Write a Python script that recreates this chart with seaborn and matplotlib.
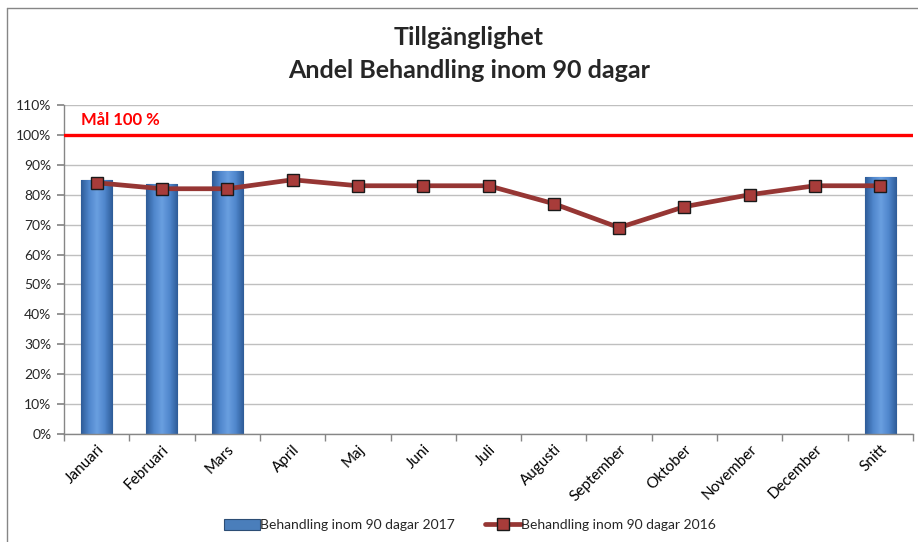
import numpy as np
import pandas as pd
import seaborn as sns
import matplotlib.pyplot as plt
from matplotlib.colors import LinearSegmentedColormap
from matplotlib.lines import Line2D
from matplotlib.patches import Patch

months = ["Januari", "Februari", "Mars", "April", "Maj", "Juni", "Juli",
          "Augusti", "September", "Oktober", "November", "December", "Snitt"]

# 2017 only has values for the first quarter plus the average
bar_months = ["Januari", "Februari", "Mars", "Snitt"]
values_2017 = [85, 83.5, 88, 86]

values_2016 = [84, 82, 82, 85, 83, 83, 83, 77, 69, 76, 80, 83, 83]

goal = 100
label_2017 = "Behandling inom 90 dagar 2017"
label_2016 = "Behandling inom 90 dagar 2016"

sns.set_theme(style="white")
plt.rcParams["font.family"] = ["Lato", "DejaVu Sans"]

df17 = pd.DataFrame({"month": bar_months, "value": values_2017})
df16 = pd.DataFrame({"month": months, "value": values_2016})

fig = plt.figure(figsize=(9.18, 5.42), dpi=100)
ax = fig.add_axes([64 / 918, 1 - 434 / 542, (913 - 64) / 918, (434 - 105) / 542])

sns.barplot(data=df17, x="month", y="value", order=months, width=0.475,
            color="#4A7EBB", edgecolor="#2C4D75", linewidth=0.8, ax=ax,
            zorder=2)

# fake the Excel gradient fill on the bars
grad = LinearSegmentedColormap.from_list(
    "bar", ["#2E5C98", "#4F86CC", "#6A9FE0", "#4F86CC", "#2E5C98"])
for patch in ax.patches:
    x0, y0 = patch.get_x(), patch.get_y()
    w, h = patch.get_width(), patch.get_height()
    if np.isnan(h) or h == 0:
        continue
    im = ax.imshow(np.linspace(0, 1, 64).reshape(1, -1), cmap=grad,
                   extent=[x0, x0 + w, y0, y0 + h], aspect="auto", zorder=2.1)
    im.set_clip_path(patch)

ax.axhline(goal, color="#FF0000", linewidth=2.4, zorder=3)
ax.text(0.02, 0.955, "Mål 100 %", transform=ax.transAxes, color="#FF0000",
        fontsize=12, fontweight="bold", va="center", ha="left")

sns.pointplot(data=df16, x="month", y="value", order=months, errorbar=None,
              color="#963634", markers="s", linestyles="-", ax=ax,
              linewidth=3.4, markersize=8, markerfacecolor="#A83C3A",
              markeredgecolor="#1A1A1A", markeredgewidth=1.0, zorder=4)

ax.set_xlim(-0.5, len(months) - 0.5)
ax.set_ylim(0, 110)
ax.set_yticks(range(0, 111, 10))
ax.set_yticklabels([f"{t}%" for t in range(0, 111, 10)])
ax.set_xticks(range(len(months)))
ax.set_xticklabels(months, rotation=45, ha="right", rotation_mode="anchor")
ax.set_xlabel("")
ax.set_ylabel("")
ax.yaxis.grid(True, color="#BFBFBF", linewidth=1.0, zorder=0)
ax.set_axisbelow(True)

# tick marks between categories like Excel
ax.set_xticks(np.arange(-0.5, len(months), 1), minor=True)
ax.tick_params(axis="x", which="major", length=0, labelsize=11, pad=6,
               colors="#000000")
ax.tick_params(axis="x", which="minor", length=5, color="#868686", bottom=True)
ax.tick_params(axis="y", length=5, color="#868686", left=True, labelsize=10,
               pad=4)

sns.despine(ax=ax, top=True, right=True)
for side in ["left", "bottom"]:
    ax.spines[side].set_color("#868686")
    ax.spines[side].set_linewidth(1.0)

fig.text(0.511, 1 - 38 / 542, "Tillgänglighet", ha="center", va="center",
         fontsize=18, fontweight="bold")
fig.text(0.511, 1 - 70 / 542, "Andel Behandling inom 90 dagar", ha="center",
         va="center", fontsize=18, fontweight="bold")

handles = [
    Patch(facecolor="#4A7EBB", edgecolor="#2C4D75", linewidth=0.8),
    Line2D([0], [0], color="#963634", linewidth=3.4, marker="s",
           markersize=8, markerfacecolor="#A83C3A", markeredgecolor="#1A1A1A"),
]
fig.legend(handles, [label_2017, label_2016], loc="center",
           bbox_to_anchor=(0.512, 1 - 525 / 542), ncol=2, frameon=False,
           fontsize=10, handlelength=2.6, handleheight=0.8, handletextpad=0.0,
           columnspacing=2.2)

# chart frame, cut off on the right and bottom
fig.add_artist(Line2D([7 / 918, 1.0], [1 - 8 / 542, 1 - 8 / 542],
                      color="#868686", linewidth=1.0))
fig.add_artist(Line2D([7 / 918, 7 / 918], [0.0, 1 - 8 / 542],
                      color="#868686", linewidth=1.0))

fig.savefig("out.png", dpi=100)
